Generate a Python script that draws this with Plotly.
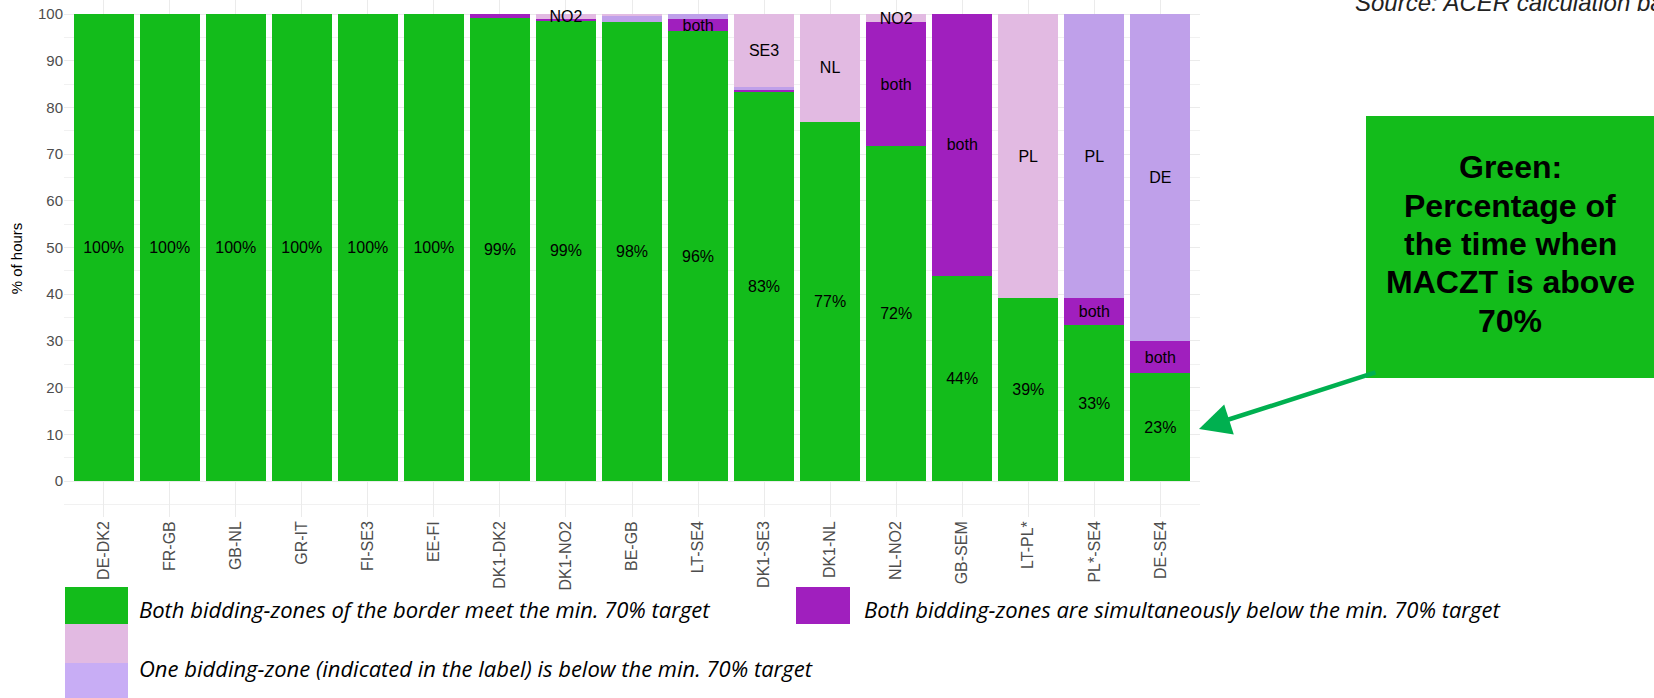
import plotly.graph_objects as go

borders = ["DE-DK2", "FR-GB", "GB-NL", "GR-IT", "FI-SE3", "EE-FI", "DK1-DK2", "DK1-NO2",
           "BE-GB", "LT-SE4", "DK1-SE3", "DK1-NL", "NL-NO2", "GB-SEM", "LT-PL*", "PL*-SE4", "DE-SE4"]

# % of hours, stacked bottom to top
green = [100, 100, 100, 100, 100, 100, 99.2, 98.6, 98.3, 96.3, 83.4, 76.9, 71.8, 44.0, 39.1, 33.4, 23.1]
both = [0, 0, 0, 0, 0, 0, 0.8, 0.3, 0, 2.6, 0.5, 0, 26.4, 56.0, 0, 5.7, 6.9]
one_lav = [0, 0, 0, 0, 0, 0, 0, 0, 1.2, 1.1, 0.4, 0, 0, 0, 0, 60.9, 70.0]
one_pink = [0, 0, 0, 0, 0, 0, 0, 1.1, 0.5, 0, 15.7, 23.1, 1.8, 0, 60.9, 0, 0]

both_lbl = ["", "", "", "", "", "", "", "", "", "both", "", "", "both", "both", "", "both", "both"]
lav_lbl = ["", "", "", "", "", "", "", "", "", "", "", "", "", "", "", "PL", "DE"]
pink_lbl = ["", "", "", "", "", "", "", "NO2", "", "", "SE3", "NL", "NO2", "", "PL", "", ""]

callout = ["Green:", "Percentage of", "the time when", "MACZT is above", "70%"]

GREEN = "#13BC1B"
PURPLE = "#A01FBE"
PINK = "#E2BAE2"
LAV = "#BFA0EA"

W, H = 1654, 698
L, R, T, B = 64, 454, 0, 181
PW, PH = W - L - R, H - T - B


def px(x):
    return (x - L) / PW


def py(y):
    return (PH + T - y) / PH


fig = go.Figure()
txtfont = dict(family="Arial, Liberation Sans", size=16, color="black")
for vals, lbl, col in [
    (green, [f"{round(v)}%" for v in green], GREEN),
    (both, both_lbl, PURPLE),
    (one_lav, lav_lbl, LAV),
    (one_pink, pink_lbl, PINK),
]:
    fig.add_trace(go.Bar(
        x=borders, y=vals, text=lbl, marker_color=col, marker_line_width=0,
        textposition="inside", insidetextanchor="middle", textangle=0,
        textfont=txtfont, hoverinfo="skip", showlegend=False,
    ))

fig.update_layout(
    barmode="stack", bargap=0.09,
    width=W, height=H, margin=dict(l=L, r=R, t=T, b=B),
    plot_bgcolor="white", paper_bgcolor="white",
    uniformtext=dict(minsize=16, mode="show"),
    font=dict(family="Arial, Liberation Sans"),
)
fig.update_xaxes(
    range=[-0.6, 16.6], tickangle=-90, showgrid=True, gridcolor="#EBEBEB",
    tickfont=dict(size=16, color="#4D4D4D"), showline=False, zeroline=False,
    automargin=False,
)
fig.update_yaxes(
    range=[-7.7, 103], tickvals=list(range(0, 101, 10)),
    showgrid=True, gridcolor="#EBEBEB", zeroline=False, automargin=False,
    minor=dict(dtick=5, tick0=0, showgrid=True, gridcolor="#F1F1F1"),
    tickfont=dict(size=15, color="#4D4D4D"),
    title=dict(text="% of hours", font=dict(size=15, color="black"), standoff=11),
)

# legend drawn by hand at the bottom
shapes = [
    (65, 128, 587, 624, GREEN),
    (65, 128, 624, 663, PINK),
    (65, 128, 663, 700, "#C8ADF5"),
    (796, 850, 587, 624, PURPLE),
]
for x0, x1, y0, y1, c in shapes:
    fig.add_shape(type="rect", xref="paper", yref="paper", x0=px(x0), x1=px(x1),
                  y0=py(y1), y1=py(y0), fillcolor=c, line_width=0, layer="above")

legfont = dict(family="Open Sans", size=22, color="black", style="italic")
for x, y, t in [
    (137, 609, "Both bidding-zones of the border meet the min. 70% target"),
    (862, 609, "Both bidding-zones are simultaneously below the min. 70% target"),
    (137, 668, "One bidding-zone (indicated in the label) is below the min. 70% target"),
]:
    fig.add_annotation(xref="paper", yref="paper", x=px(x), y=py(y), xanchor="left",
                       yanchor="middle", text=t, showarrow=False, font=legfont)

# callout box
fig.add_shape(type="rect", xref="paper", yref="paper", x0=px(1366), x1=px(1660),
              y0=py(378), y1=py(116), fillcolor=GREEN, line_width=0, layer="above")
for i, line in enumerate(callout):
    fig.add_annotation(
        xref="paper", yref="paper", x=px(1510), y=py(167 + 38.5 * i),
        xanchor="center", yanchor="middle", text=f"<b>{line}</b>", showarrow=False,
        font=dict(family="Arial, Liberation Sans", size=32, color="black"),
    )
fig.add_annotation(
    xref="paper", yref="paper", x=px(1199), y=py(429), text="", showarrow=True,
    axref="pixel", ayref="pixel", ax=178, ay=-57,
    arrowhead=2, arrowsize=1.4, arrowwidth=4.5, arrowcolor="#00B050",
)
fig.add_annotation(
    xref="paper", yref="paper", x=px(1353), y=py(18), xanchor="left", yanchor="bottom",
    text="Source: ACER calculation based on ENTSO-E data", showarrow=False,
    font=dict(family="Arial, Liberation Sans", size=24, color="#222222", style="italic"),
)

fig.write_html("out.html", config={"displayModeBar": False},
               post_script="document.body.style.margin='0';")
